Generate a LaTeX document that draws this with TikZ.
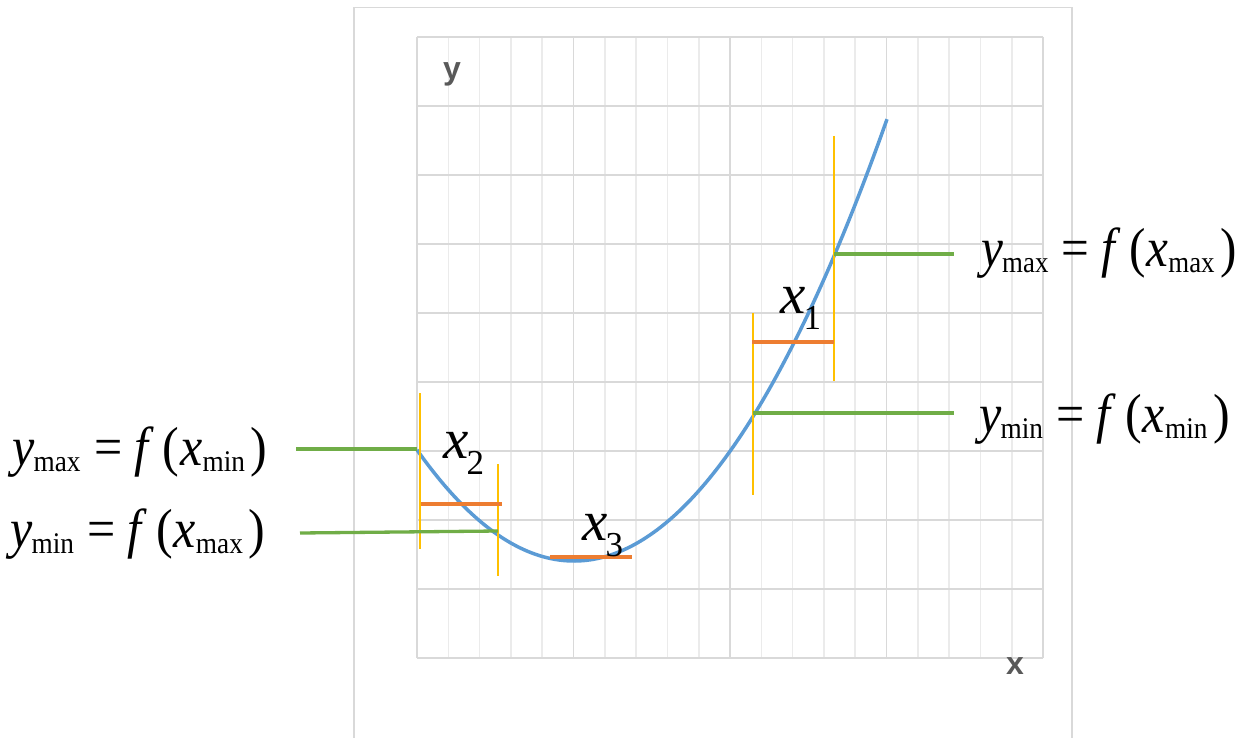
\documentclass[tikz,border=0pt]{standalone}
\usepackage{fontspec}
\setmainfont{Liberation Serif}
\newfontfamily\axisfont{Liberation Sans}
\definecolor{gridmajor}{HTML}{D9D9D9}
\definecolor{gridminor}{HTML}{EBEBEB}
\definecolor{curveblue}{HTML}{5B9BD5}
\definecolor{lineorange}{HTML}{ED7D31}
\definecolor{lineyellow}{HTML}{FFC000}
\definecolor{linegreen}{HTML}{70AD47}
\definecolor{axisgray}{HTML}{595959}
\newcommand{\mysub}[1]{\raisebox{-6pt}{\fontsize{30}{30}\selectfont #1}}
\newcommand{\myeq}[3]{\scalebox{#3}[1]{\fontsize{55}{55}\selectfont\textit{y}\kern-1pt\mysub{#1}\hspace{15pt}=\hspace{13pt}\textit{f}\hspace{9.7pt}(\kern1pt\textit{x}\mysub{#2}\kern6.5pt)}}
\newcommand{\myx}[1]{\fontsize{57}{57}\selectfont\textit{x}\kern-2pt\raisebox{-16pt}{\fontsize{35}{35}\selectfont #1}}
\tikzset{
  majorgrid/.style={draw=gridmajor,line width=1.6pt},
  minorgrid/.style={draw=gridminor,line width=1.6pt},
  curveline/.style={draw=curveblue,line width=3.5pt},
  yelline/.style={draw=lineyellow,line width=2.4pt},
  orline/.style={draw=lineorange,line width=3.5pt},
  grline/.style={draw=linegreen,line width=3.3pt},
  eqlab/.style={anchor=base west,inner sep=0pt},
  axlab/.style={anchor=base west,inner sep=0pt,text=axisgray,font=\axisfont\bfseries\fontsize{32}{32}\selectfont},
}
\begin{document}
\begin{tikzpicture}[x=1pt,y=-1pt]
\useasboundingbox (0,0) rectangle (1244,738);
\clip (0,0) rectangle (1244,738);
% outer frame
\draw[majorgrid] (354,7.5) rectangle (1072,760);
% minor vertical grid
\foreach \k in {1,2,3,4,6,7,8,9,11,12,13,14,16,17,18,19}
  \draw[minorgrid] ({417+\k*31.3},37) -- ({417+\k*31.3},658);
% major vertical grid
\foreach \k in {0,5,10,15,20}
  \draw[majorgrid] ({417+\k*31.3},37) -- ({417+\k*31.3},658);
% horizontal grid
\foreach \j in {0,...,9}
  \draw[majorgrid] (417,{37+\j*69}) -- (1043,{37+\j*69});
% axis labels
\node[axlab] (ylab) at (443,80) {y};
\node[axlab] (xlab) at (1006,674) {x};
% curve
\draw[curveline] plot[domain=417:887,samples=120,smooth] (\x,{561-(0.067157*(\x-574))^2});
% yellow verticals
\coordinate (y1a) at (420,393); \coordinate (y1b) at (420,549);
\coordinate (y2a) at (498,464); \coordinate (y2b) at (498,576);
\coordinate (y3a) at (753,313); \coordinate (y3b) at (753,495);
\coordinate (y4a) at (834,136); \coordinate (y4b) at (834,381);
\draw[yelline] (y1a) -- (y1b);
\draw[yelline] (y2a) -- (y2b);
\draw[yelline] (y3a) -- (y3b);
\draw[yelline] (y4a) -- (y4b);
% orange horizontals
\coordinate (o1a) at (752,342); \coordinate (o1b) at (834,342);
\coordinate (o2a) at (421,504); \coordinate (o2b) at (502,504);
\coordinate (o3a) at (550,557); \coordinate (o3b) at (632,557);
\draw[orline] (o1a) -- (o1b);
\draw[orline] (o2a) -- (o2b);
\draw[orline] (o3a) -- (o3b);
% green horizontals
\coordinate (g1a) at (296,449); \coordinate (g1b) at (417,449);
\coordinate (g2a) at (300,533); \coordinate (g2b) at (498,531);
\coordinate (g3a) at (834,254); \coordinate (g3b) at (954,254);
\coordinate (g4a) at (753,413); \coordinate (g4b) at (954,413);
\draw[grline] (g1a) -- (g1b);
\draw[grline] (g2a) -- (g2b);
\draw[grline] (g3a) -- (g3b);
\draw[grline] (g4a) -- (g4b);
% x labels
\node[eqlab] (x1) at (780,313) {\myx{1}};
\node[eqlab] (x2) at (443,458) {\myx{2}};
\node[eqlab] (x3) at (582,540) {\myx{3}};
% equation labels
\node[eqlab] (l1) at (12,465) {\myeq{max}{min}{0.91}};
\node[eqlab] (l2) at (10,547) {\myeq{min}{max}{0.91}};
\node[eqlab] (r1) at (981,266) {\myeq{max}{max}{0.895}};
\node[eqlab] (r2) at (979,432) {\myeq{min}{min}{0.91}};
\end{tikzpicture}
\end{document}
